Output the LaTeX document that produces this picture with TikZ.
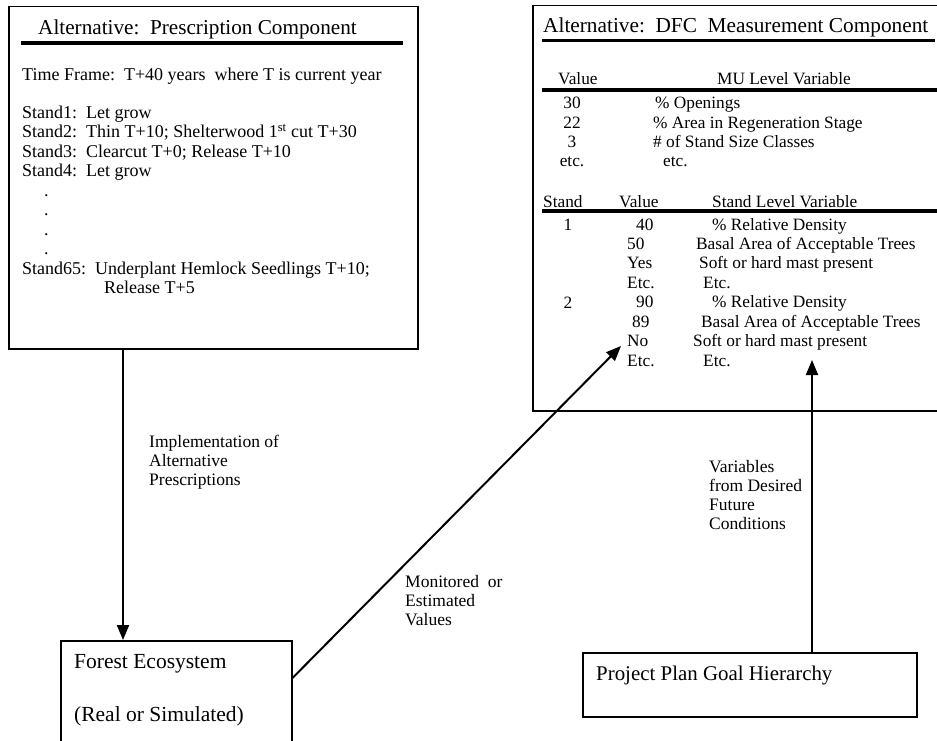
\documentclass[tikz,border=0pt]{standalone}
\usepackage{fontspec}
\setmainfont{Liberation Serif}
\usetikzlibrary{arrows.meta,positioning}

\begin{document}
\begin{tikzpicture}[x=1pt, y=-1pt,
  box/.style={draw, line width=1.5pt, inner sep=0pt, anchor=north west},
  body/.style={anchor=base west, inner sep=0pt, align=left,
    font=\fontsize{18}{19.5}\selectfont},
  tab/.style={anchor=base west, inner sep=0pt, align=left,
    font=\fontsize{17.3}{19.45}\selectfont},
  note/.style={anchor=base west, inner sep=0pt, align=left,
    font=\fontsize{17.5}{19.3}\selectfont},
  rule/.style={line width=3.5pt},
  arrow/.style={-{Triangle[length=15pt,width=12pt]}, line width=2pt}
]
  \useasboundingbox (0,0) rectangle (937,741);
  \clip (0,0) rectangle (937,741);

  % prescription component (multi-line nodes sit on their last baseline)
  \node[box, minimum width=409, minimum height=342] (presc) at (8,6) {};
  \node[body, font=\fontsize{21.2}{24}\selectfont] (ptitle) at (38,35)
    {Alternative:\ \ Prescription Component};
  \draw[rule] (21,43) -- (403,43);
  \node[body] (frame) at (22,81)
    {Time Frame:\ \ T+40 years\ \ where T is current year};
  \node[body] (stands) at (22,293.5) {
    Stand1:\ \ Let grow\\
    Stand2:\ \ Thin T+10; Shelterwood 1\textsuperscript{st} cut T+30\\
    Stand3:\ \ Clearcut T+0; Release T+10\\
    Stand4:\ \ Let grow\\
    \hspace*{22pt}.\\
    \hspace*{22pt}.\\
    \hspace*{22pt}.\\
    \hspace*{22pt}.\\
    Stand65:\ \ Underplant Hemlock Seedlings T+10;\\
    \hspace*{82pt}Release T+5};

  % DFC measurement component
  \node[box, minimum width=460, minimum height=405] (dfc) at (532,5) {};
  \node[tab, font=\fontsize{21.3}{24}\selectfont] (dtitle) at (543,33)
    {Alternative:\ \ DFC\ \ Measurement Component};
  \draw[line width=2.5pt] (542,40.5) -- (935,40.5);

  \node[tab] (muval) at (558,85) {Value};
  \node[tab] (muvar) at (717,85) {MU Level Variable};
  \draw[rule] (542,90) -- (937,90);
  \node[tab, align=center, anchor=base] (muvals) at (572,166.9)
    {30\\22\\3\\etc.};
  \node[tab] (muvars) at (653,166.9) {
    \hspace*{2pt}\% Openings\\
    \% Area in Regeneration Stage\\
    \# of Stand Size Classes\\
    \hspace*{10pt}etc.};

  \node[tab] (standhd) at (543,207) {Stand};
  \node[tab] (svalhd) at (619,207) {Value};
  \node[tab] (svarhd) at (712,207) {Stand Level Variable};
  \draw[rule] (542,211) -- (937,211);
  \node[tab, anchor=base] (stand1) at (568,230) {1};
  \node[tab, anchor=base] (stand2) at (568,308) {2};
  \node[tab] (svals) at (627,366.2) {
    \hspace*{9pt}40\\50\\Yes\\Etc.\\
    \hspace*{9pt}90\\\hspace*{5pt}89\\No\\Etc.};
  \node[tab] (svars) at (693,366.2) {
    \hspace*{19pt}\% Relative Density\\
    \hspace*{3pt}Basal Area of Acceptable Trees\\
    \hspace*{6pt}Soft or hard mast present\\
    \hspace*{10pt}Etc.\\
    \hspace*{19pt}\% Relative Density\\
    \hspace*{8pt}Basal Area of Acceptable Trees\\
    Soft or hard mast present\\
    \hspace*{10pt}Etc.};

  % lower boxes
  \node[box, minimum width=231, minimum height=140] (forest) at (60,640) {};
  \node[body, font=\fontsize{21.5}{24}\selectfont] (ftext) at (74,668)
    {Forest Ecosystem};
  \node[body, font=\fontsize{21.5}{24}\selectfont] (fsub) at (74,721)
    {(Real or Simulated)};
  \node[box, minimum width=334, minimum height=64] (goal) at (582,652) {};
  \node[body, font=\fontsize{20.9}{24}\selectfont] (gtext) at (596,680)
    {Project Plan Goal Hierarchy};

  % connectors
  \coordinate (implx) at (123,0);
  \coordinate (varx) at (812,0);
  \coordinate (notip) at (621,346);
  \coordinate (vartip) at (812,360);

  \draw[arrow] (presc.south -| implx) -- (forest.north -| implx);
  \draw[arrow] ([yshift=-38pt]forest.north east) -- (notip);
  \draw[arrow] (goal.north -| varx) -- (vartip);

  \node[note] (impl) at (149,485.6)
    {Implementation of\\Alternative\\Prescriptions};
  \node[note] (monit) at (405,625.6)
    {Monitored\ \ or\\Estimated\\Values};
  \node[note] (vars) at (709,529.9)
    {Variables\\from Desired\\Future\\Conditions};

\end{tikzpicture}
\end{document}
